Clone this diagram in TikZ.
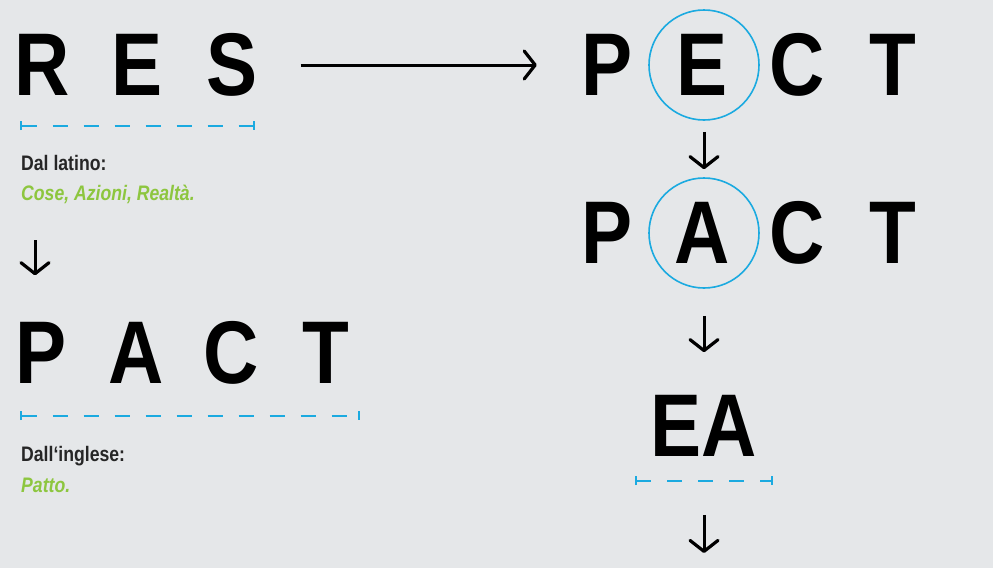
\documentclass[tikz,border=0pt]{standalone}
\usepackage{fontspec}
\setmainfont{Liberation Sans}
\newfontfamily\bigfont[FakeStretch=0.86]{Liberation Sans}
\newfontfamily\smallfont[FakeStretch=0.84]{Liberation Sans}
\usetikzlibrary{arrows.meta, positioning}
\definecolor{bgray}{HTML}{E5E7E9}
\definecolor{lineblue}{HTML}{1BAAE0}
\definecolor{leafgreen}{HTML}{8DC63F}
\newcommand{\ltr}[1]{\makebox[95pt]{#1}}

\begin{document}
\begin{tikzpicture}[x=1pt, y=-1pt,
  word/.style={inner sep=0pt, font=\fontsize{89}{89}\selectfont\bigfont\bfseries},
  note/.style={inner sep=0pt, anchor=base west, text=black!85, font=\fontsize{21}{21}\selectfont\smallfont\bfseries},
  meaning/.style={note, text=leafgreen, font=\fontsize{21}{21}\selectfont\smallfont\bfseries\itshape},
  ring/.style={circle, draw=lineblue, line width=1.6pt, minimum size=110pt, inner sep=0pt},
  arr/.style={-{Straight Barb[length=11pt, width=28pt, line width=3.2pt, line cap=round, line join=round]}, line width=3pt},
  underline/.style={draw=lineblue, line width=2pt, dash pattern=on 15pt off 16pt, {Bar[width=9pt, line width=2pt]}-{Bar[width=9pt, line width=2pt]}}]

  \useasboundingbox (0,0) rectangle (993,568);
  \fill[bgray] (0,0) rectangle (993,568);

  % left column
  \node[word] (res) at (137,65) {\ltr{R}\ltr{E}\ltr{S}};
  \draw[underline] (20,125.5) -- (255,125.5);
  \node[note] (latino) at (21,170) {Dal latino:};
  \node[meaning] (cose) at (21,200) {Cose, Azioni, Realtà.};

  \node[word] (pactL) at (183.5,353) {\ltr{P}\ltr{A}\ltr{C}\ltr{T}};
  \draw[underline] (20,415.5) -- (360,415.5);
  \node[note] (inglese) at (21,461) {Dall‘inglese:};
  \node[meaning] (patto) at (21,492) {Patto.};

  % right column
  \node[word] (pect) at (750,65) {\ltr{P}\ltr{E}\ltr{C}\ltr{T}};
  \node[ring] (ringE) at (704,65) {};
  \node[word] (pactR) at (750,233) {\ltr{P}\ltr{A}\ltr{C}\ltr{T}};
  \node[ring] (ringA) at (704,233) {};
  \node[word] (ea) at (704,426) {EA};
  \draw[underline] (634.5,480.5) -- (772.5,480.5);

  \coordinate (downL) at (35,240);
  \coordinate (endR) at (704,553);

  % arrows
  \draw[arr] ([xshift=21pt]res.east) -- ([xshift=-23pt]pect.west);
  \draw[arr] (downL) -- ([yshift=46pt]downL |- pactL.north);
  \draw[arr] ([yshift=-11pt]ringE.south) -- ([yshift=8pt]ringA.north);
  \draw[arr] ([yshift=-27pt]ringA.south) -- ([yshift=43pt]ea.north);
  \draw[arr] ([yshift=-58pt]endR |- ea.south) -- (endR);
\end{tikzpicture}
\end{document}
